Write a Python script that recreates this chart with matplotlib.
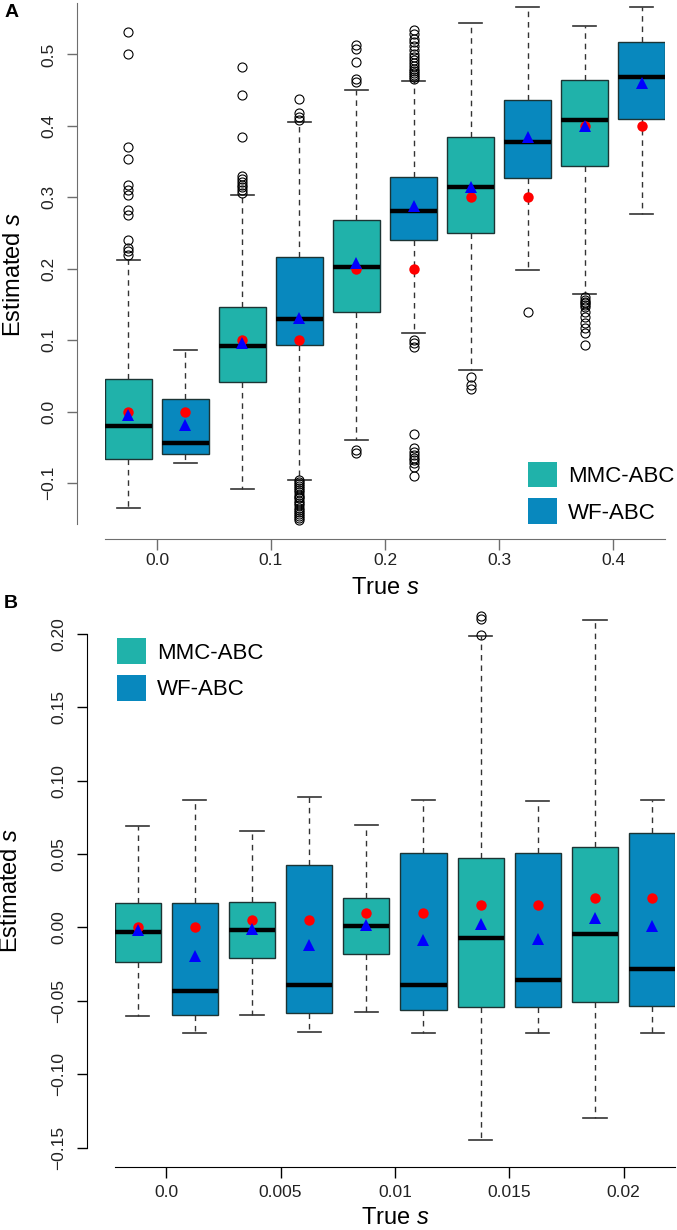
import numpy as np
import matplotlib
matplotlib.use('Agg')
import matplotlib.pyplot as plt
from matplotlib.patches import Patch

plt.rcParams['font.family'] = ['Liberation Sans', 'DejaVu Sans']
plt.rcParams['mathtext.fontset'] = 'custom'
plt.rcParams['mathtext.rm'] = 'Liberation Sans'
plt.rcParams['mathtext.it'] = 'Liberation Sans:italic'

methods = ['MMC-ABC', 'WF-ABC']
colors = ['#20B2AA', '#0888BE']

# ---- panel A data (large s) ----
true_s_a = [0.0, 0.1, 0.2, 0.3, 0.4]
a_q1 = [-0.066, -0.059, 0.042, 0.093, 0.139, 0.240, 0.250, 0.327, 0.344, 0.409]
a_med = [-0.020, -0.043, 0.092, 0.130, 0.202, 0.281, 0.315, 0.377, 0.408, 0.469]
a_q3 = [0.046, 0.018, 0.146, 0.217, 0.268, 0.329, 0.384, 0.436, 0.464, 0.517]
a_lo = [-0.135, -0.072, -0.108, -0.095, -0.040, 0.110, 0.059, 0.198, 0.165, 0.277]
a_hi = [0.213, 0.087, 0.303, 0.405, 0.450, 0.463, 0.544, 0.566, 0.540, 0.567]
a_mean = [-0.004, -0.018, 0.096, 0.131, 0.208, 0.288, 0.314, 0.384, 0.400, 0.460]
a_out = [
    [0.531, 0.500, 0.371, 0.354, 0.317, 0.310, 0.303, 0.282, 0.275, 0.241, 0.229, 0.225, 0.220],
    [],
    [0.483, 0.443, 0.385, 0.330, 0.326, 0.322, 0.318, 0.314, 0.310, 0.306],
    [0.438, 0.418, 0.413, 0.408, -0.096, -0.098, -0.101, -0.104, -0.107, -0.109, -0.112,
     -0.116, -0.119, -0.121, -0.125, -0.128, -0.131, -0.134, -0.137, -0.140, -0.143,
     -0.146, -0.148, -0.151],
    [0.513, 0.508, 0.490, 0.466, 0.462, -0.054, -0.058],
    [0.534, 0.528, 0.522, 0.517, 0.512, 0.506, 0.500, 0.496, 0.492, 0.488, 0.484, 0.480,
     0.477, 0.474, 0.471, 0.468, 0.466, 0.100, 0.096, 0.091, -0.031, -0.051, -0.056,
     -0.060, -0.064, -0.067, -0.071, -0.077, -0.090],
    [0.048, 0.038, 0.032],
    [0.140],
    [0.161, 0.157, 0.154, 0.152, 0.150, 0.146, 0.140, 0.132, 0.124, 0.117, 0.110, 0.094],
    [],
]

# ---- panel B data (small s) ----
true_s_b = [0.0, 0.005, 0.01, 0.015, 0.02]
b_q1 = [-0.0235, -0.0593, -0.0211, -0.0580, -0.0184, -0.0564, -0.0541, -0.0541, -0.0507, -0.0534]
b_med = [-0.0034, -0.0432, -0.0018, -0.0389, 0.0009, -0.0391, -0.0073, -0.0359, -0.0041, -0.0282]
b_q3 = [0.0168, 0.0164, 0.0175, 0.0423, 0.0198, 0.0509, 0.0475, 0.0511, 0.0550, 0.0641]
b_lo = [-0.0600, -0.0721, -0.0596, -0.0714, -0.0575, -0.0716, -0.1450, -0.0716, -0.1300, -0.0718]
b_hi = [0.0690, 0.0866, 0.0659, 0.0890, 0.0698, 0.0866, 0.1986, 0.0861, 0.2095, 0.0866]
b_mean = [-0.0014, -0.0194, -0.0007, -0.0116, 0.0016, -0.0082, 0.0027, -0.0080, 0.0066, 0.0009]
b_out = [[], [], [], [], [], [], [0.1993, 0.2102, 0.2122], [], [], []]


def draw_panel(ax, true_s, q1, med, q3, lo, hi, mean, out, off, width):
    pos = []
    truth = []
    for s in true_s:
        pos += [s - off, s + off]
        truth += [s, s]
    stats = []
    for i in range(len(pos)):
        stats.append({'q1': q1[i], 'med': med[i], 'q3': q3[i],
                      'whislo': lo[i], 'whishi': hi[i], 'fliers': out[i]})
    bp = ax.bxp(stats, positions=pos, widths=width, patch_artist=True,
                manage_ticks=False,
                boxprops=dict(edgecolor='#1c3434', linewidth=1.0),
                medianprops=dict(color='black', linewidth=3.2, solid_capstyle='butt'),
                whiskerprops=dict(color='#333333', linewidth=1.0, linestyle=(0, (4, 3.5))),
                capprops=dict(color='#333333', linewidth=1.2),
                capwidths=width / 2,
                flierprops=dict(marker='o', markerfacecolor='none', markeredgecolor='black',
                                markersize=6.5, markeredgewidth=0.8))
    for i, b in enumerate(bp['boxes']):
        b.set_facecolor(colors[i % 2])
    ax.plot(pos, truth, 'o', color='#FF0000', markersize=7.5, zorder=4, markeredgewidth=0)
    ax.plot(pos, mean, '^', color='#0000FF', markersize=8.5, zorder=5, markeredgewidth=0)
    return bp


fig = plt.figure(figsize=(6.77, 12.30), dpi=100)
axA = fig.add_axes([105 / 677, 1 - 539 / 1230, 560 / 677, 536 / 1230])
axB = fig.add_axes([115 / 677, 1 - 1166.7 / 1230, 560 / 677, 565 / 1230])

draw_panel(axA, true_s_a, a_q1, a_med, a_q3, a_lo, a_hi, a_mean, a_out, 0.025, 0.0404)
draw_panel(axB, true_s_b, b_q1, b_med, b_q3, b_lo, b_hi, b_mean, b_out, 0.00125, 0.00202)

axA.set_xlim(-0.0456, 0.4456)
axA.set_ylim(-0.178, 0.572)
axB.set_xlim(-0.00224, 0.02225)
axB.set_ylim(-0.163, 0.222)

a_yticks = [-0.1, 0.0, 0.1, 0.2, 0.3, 0.4, 0.5]
axA.set_yticks(a_yticks)
axA.set_yticklabels(['\u22120.1', '0.0', '0.1', '0.2', '0.3', '0.4', '0.5'])
axA.set_xticks(true_s_a)
axA.set_xticklabels(['0.0', '0.1', '0.2', '0.3', '0.4'])

b_yticks = [-0.15, -0.10, -0.05, 0.0, 0.05, 0.10, 0.15, 0.20]
axB.set_yticks(b_yticks)
axB.set_yticklabels(['\u22120.15', '\u22120.10', '\u22120.05', '0.00', '0.05', '0.10', '0.15', '0.20'])
axB.set_xticks(true_s_b)
axB.set_xticklabels(['0.0', '0.005', '0.01', '0.015', '0.02'])

for ax, sc in [(axA, '#6e6e6e'), (axB, 'black')]:
    ax.spines['top'].set_visible(False)
    ax.spines['right'].set_visible(False)
    ax.spines['left'].set_position(('outward', 20))
    ax.spines['left'].set_color(sc)
    ax.spines['bottom'].set_color(sc)
    ax.tick_params(axis='y', length=7, width=1, color=sc, labelsize=12.5, pad=8,
                   labelcolor='#222222', labelrotation=90)
    ax.tick_params(axis='x', length=8, width=1, color=sc, labelsize=12.5, labelcolor='#222222')
    for lab in ax.get_yticklabels():
        lab.set_verticalalignment('center')
    ax.set_ylabel('Estimated $\\it{s}$', fontsize=17)
    ax.set_xlabel('True $\\it{s}$', fontsize=17)

axA.tick_params(axis='x', pad=2)
axB.tick_params(axis='x', pad=5)
axA.spines['left'].set_bounds(-0.157, 0.572)
axB.spines['left'].set_bounds(-0.15, 0.20)

axA.yaxis.set_label_coords(-0.143, 0.494)
axB.yaxis.set_label_coords(-0.166, 0.488)
axA.xaxis.set_label_coords(0.5, -0.071)
axB.xaxis.set_label_coords(0.5, -0.071)

handles = [Patch(facecolor=colors[0], edgecolor='none'), Patch(facecolor=colors[1], edgecolor='none')]
leg_kw = dict(frameon=False, fontsize=16, handlelength=1.3, handleheight=1.4,
              handletextpad=0.5, labelspacing=0.5, borderpad=0, borderaxespad=0)
axA.legend(handles, methods, loc='lower left', bbox_to_anchor=(0.755, 0.028), **leg_kw)
axB.legend(handles, methods, loc='upper left', bbox_to_anchor=(0.0036, 0.935), **leg_kw)

fig.text(5 / 677, 1 - 4 / 1230, 'A', fontsize=14, fontweight='bold', va='top')
fig.text(4 / 677, 1 - 595 / 1230, 'B', fontsize=14, fontweight='bold', va='top')

fig.savefig('out.png', dpi=100)
